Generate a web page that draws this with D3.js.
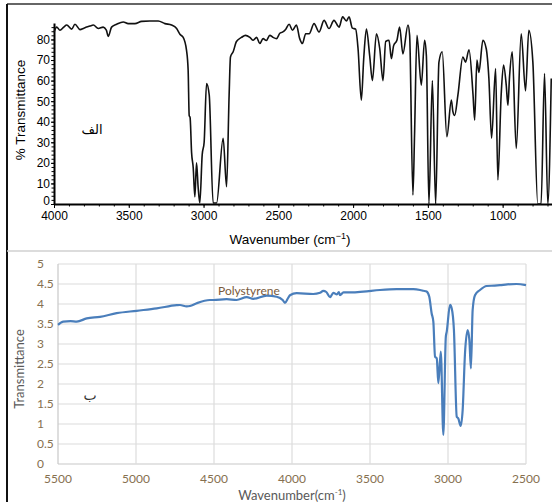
<!DOCTYPE html>
<html lang="en">

<head>
    <meta charset="UTF-8">
    <title>IR Spectra of Polystyrene</title>
    <style>
        body {
            margin: 0;
            background: #fff;
        }

        .top-text {
            font-family: "Liberation Sans", Arial, sans-serif;
            fill: #000;
        }

        .bot-text {
            font-family: Lato, "Open Sans", sans-serif;
        }
    </style>
</head>

<body>
    <script src="https://d3js.org/d3.v7.min.js"></script>
    <script>
        // top spectrum (wavenumber in cm-1, % transmittance)
        const topWavenumber = [4000, 3982, 3960, 3935, 3915, 3882, 3860, 3826, 3800, 3782, 3760, 3737, 3704, 3671, 3650, 3637,
            3615, 3581, 3537, 3504, 3459, 3414, 3359, 3303, 3258, 3214, 3180, 3158, 3136, 3114, 3103, 3096, 3090, 3080, 3069,
            3058, 3047, 3036, 3025, 3009, 2996, 2980, 2962, 2936, 2913, 2869, 2846, 2829, 2820, 2802, 2780, 2746, 2720, 2690,
            2668, 2645, 2624, 2602, 2580, 2557, 2535, 2512, 2490, 2472, 2450, 2428, 2405, 2379, 2357, 2339, 2317, 2294, 2261,
            2228, 2194, 2161, 2128, 2094, 2070, 2045, 2027, 2005, 1983, 1967, 1945, 1929, 1911, 1889, 1871, 1844, 1822, 1800,
            1782, 1760, 1744, 1729, 1707, 1689, 1667, 1633, 1622, 1600, 1589, 1573, 1544, 1522, 1510, 1493, 1470, 1448, 1426,
            1404, 1373, 1343, 1333, 1321, 1299, 1266, 1248, 1225, 1198, 1187, 1172, 1159, 1132, 1110, 1092, 1074, 1047, 1032,
            1010, 994, 976, 965, 954, 936, 909, 876, 847, 825, 798, 765, 743, 720, 698, 675];
        const topTransmittance = [83.5, 86, 84.5, 86, 87, 85, 87.4, 84.8, 85.5, 86, 86.5, 87, 85.3, 86, 84.5, 81.5,
            86, 87.4, 88.5, 87.7, 87.7, 88.8, 89, 89, 87.7, 87, 85.3, 82.5, 81, 74.8, 65, 43, 42, 25, 17.5,
            3.5, 20, 8, 0.5, 24, 30, 58.6, 53, 0.5, 0.5, 32, 8.4, 53, 71.5, 74, 79, 81, 82, 81,
            79.6, 81, 78, 80.4, 79.5, 82, 81, 80.4, 83, 83.6, 85, 87.4, 84.5, 87, 80.4, 78, 82.8, 82.8, 87.7,
            83.6, 89.3, 85.3, 89.3, 86, 91, 89, 91, 85.5, 85, 75.6, 50.5, 70.7, 85, 72, 60, 82.8, 75.6, 60,
            79, 79.6, 70.7, 77, 79.6, 86, 73, 87, 82, 4.4, 34, 82, 57.8, 79.6, 72, 0, 60, 0, 69,
            74, 32.7, 50.5, 45, 43, 53, 71.5, 69, 75, 53, 40.8, 70, 64, 79.6, 75.6, 61, 32, 65.9, 11.7,
            53, 67.5, 57.8, 48, 61.8, 74, 27, 82.8, 55, 84.5, 69, 0, 0, 63.4, 0, 61];
        const topXTicks = [4000, 3500, 3000, 2500, 2000, 1500, 1000];
        const topYTicks = [0, 10, 20, 30, 40, 50, 60, 70, 80];

        // bottom spectrum (Excel chart)
        const botWavenumber = [5500, 5466, 5420, 5380, 5316, 5231, 5124, 4996, 4867, 4739, 4718, 4675, 4654, 4611, 4526,
            4504, 4419, 4355, 4290, 4248, 4162, 4098, 4060, 4045, 4025, 4013, 3970, 3864, 3820, 3800, 3780, 3756, 3735,
            3712, 3700, 3692, 3670, 3620, 3543, 3436, 3329, 3222, 3179, 3158, 3137, 3120, 3105, 3094, 3083, 3072, 3062,
            3046, 3030, 3014, 3008, 2987, 2976, 2962, 2944, 2934, 2919, 2906, 2891, 2874, 2863, 2853, 2842, 2827, 2795,
            2752, 2700, 2667, 2620, 2560, 2500];
        const botTransmittance = [3.48, 3.56, 3.57, 3.56, 3.64, 3.68, 3.77, 3.83, 3.89, 3.97, 3.975, 3.94, 3.95, 4.02, 4.1,
            4.1, 4.12, 4.1, 4.17, 4.13, 4.21, 4.18, 4.1, 4.03, 4.15, 4.22, 4.27, 4.25, 4.28, 4.33, 4.3, 4.17, 4.28,
            4.24, 4.3, 4.22, 4.29, 4.29, 4.31, 4.35, 4.37, 4.37, 4.35, 4.33, 4.31, 4.18, 3.77, 3.56, 2.68, 2.64, 2.02,
            2.81, 0.73, 3.18, 3.31, 3.98, 3.89, 3.35, 1.18, 1.14, 0.95, 1.35, 2.77, 3.35, 3.1, 2.39, 3.85, 4.22, 4.35,
            4.45, 4.46, 4.47, 4.49, 4.5, 4.47];
        const botXTicks = [5500, 5000, 4500, 4000, 3500, 3000, 2500];
        const botYTicks = [0, 0.5, 1, 1.5, 2, 2.5, 3, 3.5, 4, 4.5, 5];

        const topData = topWavenumber.map((w, i) => ({ w, t: topTransmittance[i] }));
        const botData = botWavenumber.map((w, i) => ({ w, t: botTransmittance[i] }));

        const svg = d3.select("body")
            .append("svg")
            .attr("width", 552)
            .attr("height", 502);

        // frame
        svg.append("line").attr("x1", 7).attr("x2", 552).attr("y1", 4).attr("y2", 4)
            .attr("stroke", "#333").attr("stroke-width", 1.5);
        svg.append("line").attr("x1", 7).attr("x2", 7).attr("y1", 4).attr("y2", 502)
            .attr("stroke", "#111").attr("stroke-width", 2);
        svg.append("line").attr("x1", 7).attr("x2", 552).attr("y1", 251).attr("y2", 251)
            .attr("stroke", "#d0d0d0").attr("stroke-width", 1.5);

        // ---------- top chart ----------
        const xTop = d3.scaleLinear().domain([4000, 670]).range([54, 552]);
        const yTop = d3.scaleLinear().domain([0, 88]).range([204, 23]);

        const topG = svg.append("g").attr("class", "top-text");

        // minor ticks
        topG.append("g")
            .attr("transform", "translate(0,204)")
            .call(d3.axisBottom(xTop).tickValues(d3.range(4000, 650, -100)).tickSize(2.5).tickFormat(""))
            .call(g => g.select(".domain").remove())
            .selectAll("line").attr("stroke-width", 1);
        topG.append("g")
            .attr("transform", "translate(54,0)")
            .call(d3.axisLeft(yTop).tickValues(d3.range(0, 88, 2)).tickSize(2.5).tickFormat(""))
            .call(g => g.select(".domain").remove())
            .selectAll("line").attr("stroke-width", 1);

        const topX = topG.append("g")
            .attr("transform", "translate(0,204)")
            .call(d3.axisBottom(xTop).tickValues(topXTicks).tickSize(4).tickSizeOuter(0).tickPadding(3)
                .tickFormat(d3.format("d")));
        topX.select(".domain").attr("stroke-width", 2);
        topX.selectAll("text").attr("font-size", 12).attr("font-family", "Liberation Sans, Arial, sans-serif");

        const topY = topG.append("g")
            .attr("transform", "translate(54,0)")
            .call(d3.axisLeft(yTop).tickValues(topYTicks).tickSize(3).tickSizeOuter(0).tickPadding(1));
        topY.select(".domain").attr("stroke-width", 2);
        topY.selectAll("text").attr("font-size", 12).attr("font-family", "Liberation Sans, Arial, sans-serif")
            .attr("dy", d => d === 0 ? "0.05em" : "0.32em");

        const topLine = d3.line()
            .x(d => xTop(d.w))
            .y(d => yTop(d.t))
            .curve(d3.curveMonotoneX);

        topG.append("path")
            .datum(topData)
            .attr("d", topLine)
            .attr("fill", "none")
            .attr("stroke", "#111")
            .attr("stroke-width", 1.6);

        const topXLabel = topG.append("text")
            .attr("x", 290)
            .attr("y", 244)
            .attr("text-anchor", "middle")
            .attr("font-size", 13.5)
            .text("Wavenumber (cm");
        topXLabel.append("tspan").attr("font-size", 9).attr("dy", -5).text("\u22121");
        topXLabel.append("tspan").attr("dy", 5).text(")");

        topG.append("text")
            .attr("transform", "translate(25,110) rotate(-90)")
            .attr("text-anchor", "middle")
            .attr("font-size", 13.5)
            .text("% Transmittance");

        topG.append("text")
            .attr("x", 92)
            .attr("y", 134)
            .attr("text-anchor", "middle")
            .attr("font-family", "DejaVu Sans, sans-serif")
            .attr("font-size", 13)
            .text("الف");

        // ---------- bottom chart ----------
        const xBot = d3.scaleLinear().domain([5500, 2500]).range([58, 526]);
        const yBot = d3.scaleLinear().domain([0, 5]).range([464, 264]);

        const botG = svg.append("g").attr("class", "bot-text");

        botG.append("g")
            .selectAll("line")
            .data(botYTicks)
            .enter()
            .append("line")
            .attr("x1", 58)
            .attr("x2", 526)
            .attr("y1", d => yBot(d))
            .attr("y2", d => yBot(d))
            .attr("stroke", d => d === 0 ? "#c8c8c8" : "#dcdcdc")
            .attr("stroke-width", 1.2);

        botG.append("g")
            .selectAll("line")
            .data(botXTicks)
            .enter()
            .append("line")
            .attr("x1", d => xBot(d))
            .attr("x2", d => xBot(d))
            .attr("y1", 264)
            .attr("y2", 464)
            .attr("stroke", d => d === 5500 ? "#c8c8c8" : "#dcdcdc")
            .attr("stroke-width", 1.2);

        botG.append("g")
            .selectAll("text")
            .data(botYTicks)
            .enter()
            .append("text")
            .attr("x", 37)
            .attr("y", d => yBot(d) + 4)
            .attr("font-size", 12)
            .attr("fill", "#86704f")
            .text(d => d);

        botG.append("g")
            .selectAll("text")
            .data(botXTicks)
            .enter()
            .append("text")
            .attr("x", d => xBot(d))
            .attr("y", 483)
            .attr("text-anchor", "middle")
            .attr("font-size", 12)
            .attr("fill", "#86704f")
            .text(d => d);

        const botLine = d3.line()
            .x(d => xBot(d.w))
            .y(d => yBot(d.t))
            .curve(d3.curveMonotoneX);

        botG.append("path")
            .datum(botData)
            .attr("d", botLine)
            .attr("fill", "none")
            .attr("stroke", "#4a7ebb")
            .attr("stroke-width", 2.2);

        botG.append("text")
            .attr("x", 218)
            .attr("y", 295)
            .attr("font-size", 12)
            .attr("fill", "#7a5a3c")
            .text("Polystyrene");

        botG.append("text")
            .attr("transform", "translate(24,369) rotate(-90)")
            .attr("text-anchor", "middle")
            .attr("font-size", 13)
            .attr("fill", "#595959")
            .text("Transmittance");

        const botXLabel = botG.append("text")
            .attr("x", 292)
            .attr("y", 500)
            .attr("text-anchor", "middle")
            .attr("font-size", 13)
            .attr("fill", "#595959")
            .text("Wavenumber(cm");
        botXLabel.append("tspan").attr("font-size", 8).attr("dy", -5).text("-1");
        botXLabel.append("tspan").attr("dy", 5).text(")");

        botG.append("text")
            .attr("x", 90)
            .attr("y", 400)
            .attr("text-anchor", "middle")
            .attr("font-family", "DejaVu Sans, sans-serif")
            .attr("font-size", 14)
            .attr("fill", "#333")
            .text("ب");
    </script>
</body>

</html>
